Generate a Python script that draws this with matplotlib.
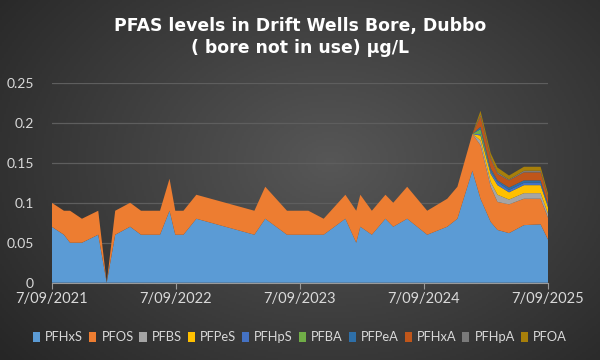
import matplotlib.pyplot as plt
import numpy as np
from datetime import date

# sample dates
dates = np.array([
    '2021-09-07', '2021-10-13', '2021-10-31', '2021-12-05', '2022-01-22',
    '2022-02-16', '2022-03-13', '2022-04-26', '2022-05-28', '2022-07-23',
    '2022-08-20', '2022-09-06', '2022-09-30', '2022-11-07', '2023-04-27',
    '2023-05-29', '2023-08-01', '2023-10-03', '2023-11-17', '2024-01-20',
    '2024-02-21', '2024-03-04', '2024-04-07', '2024-05-17', '2024-06-09',
    '2024-07-20', '2024-09-17', '2024-11-15', '2024-12-15', '2025-01-28',
    '2025-02-21', '2025-03-23', '2025-04-12', '2025-05-16', '2025-06-29',
    '2025-08-17', '2025-09-09'], dtype='datetime64[D]')

pfhxs = [0.07, 0.06, 0.05, 0.05, 0.06, 0.0, 0.06, 0.07, 0.06, 0.06,
         0.09, 0.06, 0.06, 0.08, 0.06, 0.08, 0.06, 0.06, 0.06, 0.08,
         0.05, 0.07, 0.06, 0.08, 0.07, 0.08, 0.06, 0.07, 0.08, 0.14,
         0.105, 0.076, 0.066, 0.062, 0.072, 0.073, 0.053]
pfos = [0.03, 0.03, 0.04, 0.03, 0.03, 0.0, 0.03, 0.03, 0.03, 0.03,
        0.04, 0.03, 0.03, 0.03, 0.03, 0.04, 0.03, 0.03, 0.02, 0.03,
        0.04, 0.04, 0.03, 0.03, 0.03, 0.04, 0.03, 0.035, 0.04, 0.046,
        0.067, 0.044, 0.035, 0.036, 0.033, 0.032, 0.027]
zeros = [0.0] * 30
pfbs = zeros + [0.006, 0.006, 0.009, 0.006, 0.007, 0.007, 0.005]
pfpes = zeros + [0.006, 0.010, 0.012, 0.009, 0.010, 0.010, 0.008]
pfhps = zeros + [0.002, 0.003, 0.004, 0.003, 0.003, 0.003, 0.002]
pfba = zeros + [0.006, 0.001, 0.0, 0.0, 0.0, 0.0, 0.0]
pfpea = zeros + [0.003, 0.003, 0.002, 0.003, 0.003, 0.003, 0.002]
pfhxa = zeros + [0.013, 0.012, 0.008, 0.009, 0.010, 0.010, 0.008]
pfhpa = zeros + [0.002, 0.002, 0.002, 0.001, 0.002, 0.002, 0.001]
pfoa = zeros + [0.005, 0.005, 0.006, 0.005, 0.005, 0.005, 0.004]

labels = ['PFHxS', 'PFOS', 'PFBS', 'PFPeS', 'PFHpS', 'PFBA', 'PFPeA',
          'PFHxA', 'PFHpA', 'PFOA']
colors = ['#5b9bd5', '#ed7d31', '#a5a5a5', '#ffc000', '#4472c4', '#70ad47',
          '#2e6fa8', '#c0561a', '#7a7a7a', '#a77f0a']

plt.rcParams['font.family'] = ['Lato', 'DejaVu Sans']

fig = plt.figure(figsize=(6, 3.6), dpi=100)

# dark radial background
bg = fig.add_axes([0, 0, 1, 1], zorder=-10)
gx, gy = np.meshgrid(np.linspace(0, 1, 300), np.linspace(0, 1, 180))
r = np.sqrt(((gx - 0.55) / 0.75) ** 2 + ((gy - 0.45) / 0.9) ** 2)
shade = np.clip(0.34 - 0.2 * r, 0.13, 0.34)
bg.imshow(np.dstack([shade] * 3), aspect='auto', extent=[0, 1, 0, 1])
bg.axis('off')

ax = fig.add_axes([0.0862, 0.2147, 0.8278, 0.5553])
ax.set_facecolor('none')
ax.stackplot(dates, pfhxs, pfos, pfbs, pfpes, pfhps, pfba, pfpea, pfhxa,
             pfhpa, pfoa, colors=colors, labels=labels, linewidth=0,
             zorder=3)

ax.set_ylim(0, 0.25)
ax.set_yticks([0, 0.05, 0.1, 0.15, 0.2, 0.25])
ax.set_yticklabels(['0', '0.05', '0.1', '0.15', '0.2', '0.25'])
ax.set_xlim(dates[0], dates[-1])
ticks = [date(2021 + i, 9, 7) for i in range(5)]
ax.set_xticks(ticks)
ax.set_xticklabels([f'{d.day}/{d.month:02d}/{d.year}' for d in ticks])

ax.grid(axis='y', color='#5e5e5e', linewidth=0.9, zorder=1)
for s in ['top', 'right', 'left']:
    ax.spines[s].set_visible(False)
ax.spines['bottom'].set_color('#9a9a9a')
ax.spines['bottom'].set_zorder(4)
ax.tick_params(axis='y', length=0, pad=13, labelsize=10, labelcolor='#d9d9d9')
ax.tick_params(axis='x', length=4, color='#9a9a9a', pad=3, labelsize=10.5,
               labelcolor='#d9d9d9')

fig.text(0.5, 0.927, 'PFAS levels in Drift Wells Bore, Dubbo',
         ha='center', va='center', color='white', fontsize=12.4,
         fontweight='bold', family=['DejaVu Sans'])
fig.text(0.5, 0.867, '( bore not in use) µg/L',
         ha='center', va='center', color='white', fontsize=12.4,
         fontweight='bold', family=['DejaVu Sans'])

fig.legend(loc='center', bbox_to_anchor=(0.5, 0.063), ncol=10, frameon=False,
           fontsize=9.3, labelcolor='#d9d9d9', handlelength=0.55,
           handleheight=0.75, handletextpad=0.4, columnspacing=0.45)

fig.savefig('out.png', dpi=100)
